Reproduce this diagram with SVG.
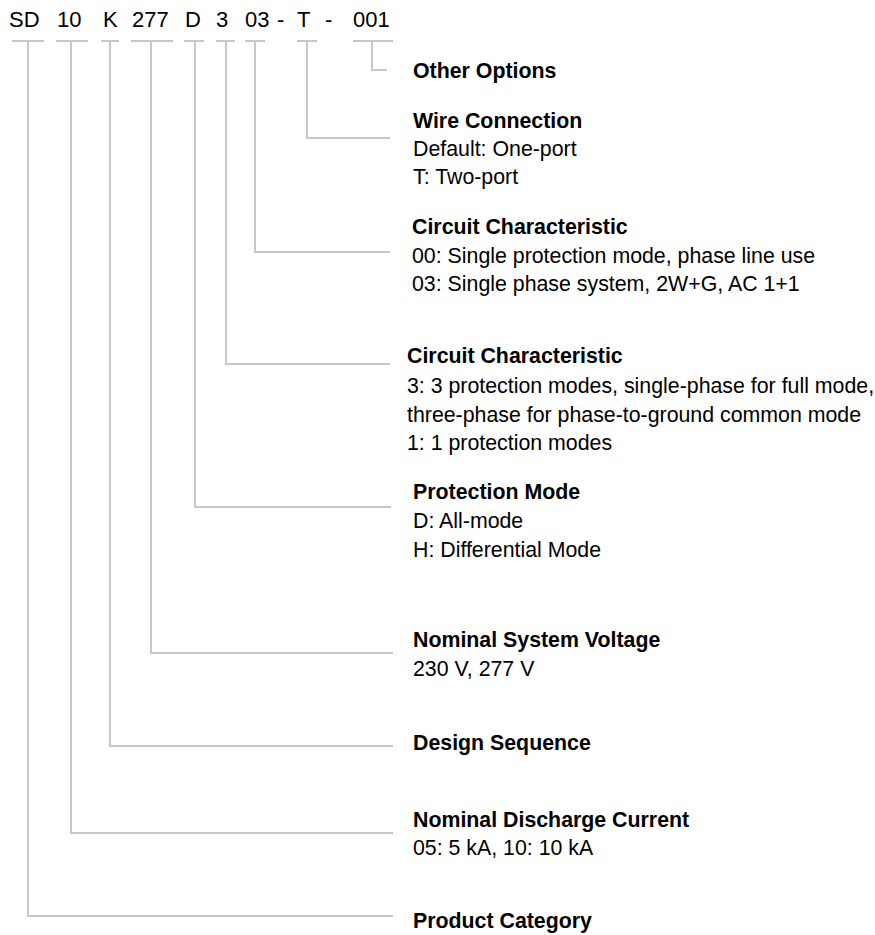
<svg xmlns="http://www.w3.org/2000/svg" width="875" height="935" viewBox="0 0 875 935">
<style>
text{font-family:"Liberation Sans",Arial,sans-serif;fill:#000}
.code{font-size:22px}
.h{font-size:21.33px;font-weight:bold}
.d{font-size:21.33px}
.ln{fill:none;stroke:#c8c8c8;stroke-width:2}
</style>
<rect width="875" height="935" fill="#fff"/>
<g id="code">
<text class="code" x="9" y="27">SD</text>
<text class="code" x="57" y="27">10</text>
<text class="code" x="103" y="27">K</text>
<text class="code" x="132" y="27">277</text>
<text class="code" x="185" y="27">D</text>
<text class="code" x="216" y="27">3</text>
<text class="code" x="245" y="27">03</text>
<text class="code" x="277" y="27">-</text>
<text class="code" x="297" y="27">T</text>
<text class="code" x="325" y="27">-</text>
<text class="code" x="353" y="27">001</text>
</g>
<g id="connectors">
<path class="ln" d="M12 41H44M28 41V916H393"/>
<path class="ln" d="M56 41H88M71 41V833H393"/>
<path class="ln" d="M101 41H119M110 41V746H393"/>
<path class="ln" d="M131 41H173M151 41V653H393"/>
<path class="ln" d="M184 41H204M195 41V507H391"/>
<path class="ln" d="M216 41H235M226 41V364H390"/>
<path class="ln" d="M245 41H265M255 41V252H390"/>
<path class="ln" d="M297 41H317M307 41V138H390"/>
<path class="ln" d="M353 41H393M372 41V70H387"/>
</g>
<g id="other-options">
<text class="h" x="413" y="78">Other Options</text>
</g>
<g id="wire-connection">
<text class="h" x="413" y="128">Wire Connection</text>
<text class="d" x="413" y="156">Default: One-port</text>
<text class="d" x="413" y="184">T: Two-port</text>
</g>
<g id="circuit-characteristic-1">
<text class="h" x="412" y="234">Circuit Characteristic</text>
<text class="d" x="412" y="263">00: Single protection mode, phase line use</text>
<text class="d" x="412" y="291">03: Single phase system, 2W+G, AC 1+1</text>
</g>
<g id="circuit-characteristic-2">
<text class="h" x="407" y="363">Circuit Characteristic</text>
<text class="d" x="407" y="393">3: 3 protection modes, single-phase for full mode,</text>
<text class="d" x="407" y="422">three-phase for phase-to-ground common mode</text>
<text class="d" x="407" y="450">1: 1 protection modes</text>
</g>
<g id="protection-mode">
<text class="h" x="413" y="499">Protection Mode</text>
<text class="d" x="413" y="528">D: All-mode</text>
<text class="d" x="413" y="557">H: Differential Mode</text>
</g>
<g id="nominal-system-voltage">
<text class="h" x="413" y="647">Nominal System Voltage</text>
<text class="d" x="413" y="676">230 V, 277 V</text>
</g>
<g id="design-sequence">
<text class="h" x="413" y="750">Design Sequence</text>
</g>
<g id="nominal-discharge-current">
<text class="h" x="413" y="827">Nominal Discharge Current</text>
<text class="d" x="413" y="855">05: 5 kA, 10: 10 kA</text>
</g>
<g id="product-category">
<text class="h" x="413" y="928">Product Category</text>
</g>
</svg>
